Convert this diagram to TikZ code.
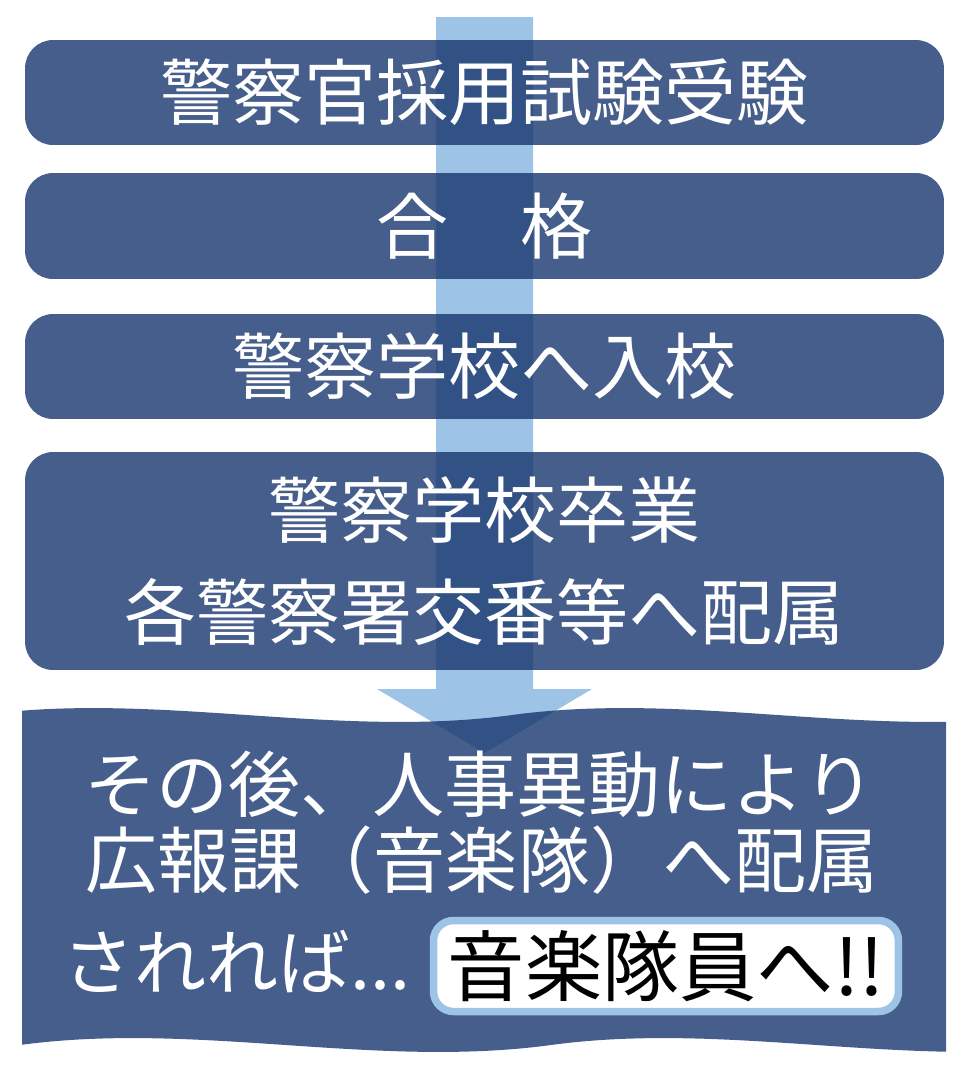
\documentclass[tikz,border=0pt]{standalone}
\usepackage{fontspec}
\setmainfont{Noto Sans CJK JP}
\definecolor{boxblue}{RGB}{24,54,111}
\definecolor{flowblue}{RGB}{157,195,230}

\begin{document}
\begin{tikzpicture}[x=0.02cm,y=-0.02cm,
    stepbox/.style={fill=boxblue,fill opacity=0.8,text opacity=1,text=white,
      rounded corners=0.56cm,minimum width=18.38cm,inner sep=0pt,align=center,
      font=\fontsize{41}{58}\selectfont},
    wavetext/.style={text=white,inner sep=0pt,font=\fontsize{41}{50}\selectfont},
    goalbox/.style={fill=white,draw=flowblue,line width=0.15cm,rounded corners=0.4cm,
      minimum width=9.3cm,minimum height=1.82cm,inner sep=0pt,
      font=\fontsize{44}{50}\selectfont}]
    \useasboundingbox (0,0) rectangle (965,1083);
    % Arrow
    \fill[flowblue] (436,17) -- (533,17) -- (533,689) -- (592,689) -- (484.5,753)
      -- (377,689) -- (436,689) -- cycle;
    % Steps
    \node[stepbox,minimum height=2.1cm] (exam) at (484.5,92.5) {警察官採用試験受験};
    \node[stepbox,minimum height=2.12cm] (pass) at (484.5,226) {合\hspace{1em}格};
    \node[stepbox,minimum height=2.1cm] (entry) at (484.5,366.5) {警察学校へ入校};
    \node[stepbox,minimum height=4.36cm] (grad) at (484.5,561) {警察学校卒業\\各警察署交番等へ配属};
    % Wave box
    \begin{scope}
      \clip (22,0) rectangle (946,1083);
      \fill[boxblue,fill opacity=0.8] (-19,715) .. controls (158,691) and (335,739) .. (512,715)
        .. controls (689,691) and (866,739) .. (1043,715) -- (1082,1045)
        .. controls (905,1069) and (728,1021) .. (551,1045)
        .. controls (374,1069) and (197,1021) .. (20,1045) -- (-19,1045) -- cycle;
    \end{scope}
    \node[wavetext] (after) at (480,784) {その後、人事異動により};
    \node[wavetext] (band) at (482,860) {広報課（音楽隊）へ配属};
    \node[wavetext,anchor=west] (then) at (62,962) {されれば...};
    % Goal
    \node[goalbox] (goal) at (666,966) {音楽隊員へ!!};
\end{tikzpicture}
\end{document}
